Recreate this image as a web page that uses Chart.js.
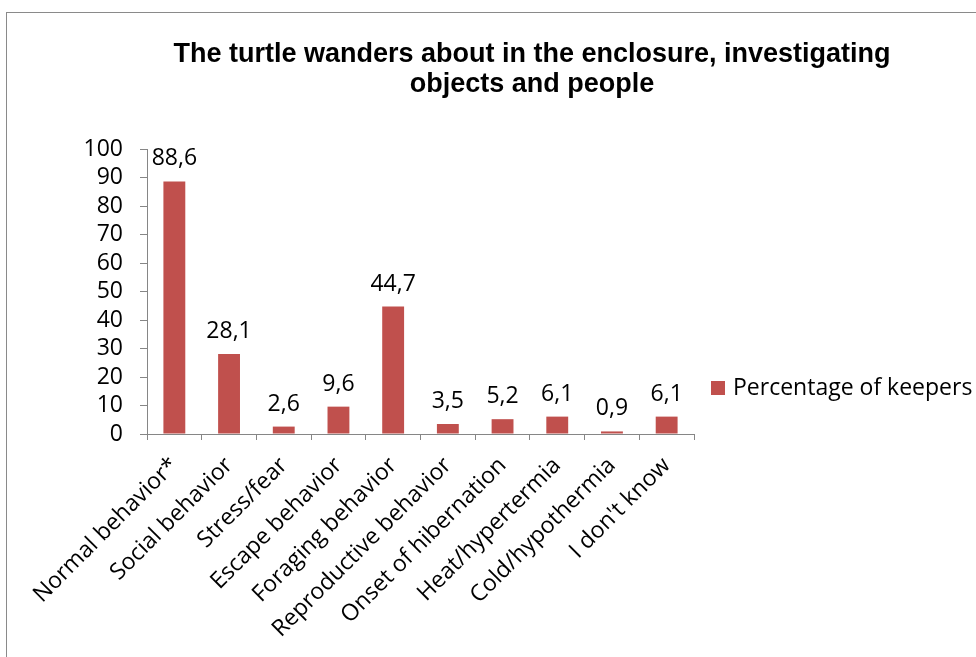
<!DOCTYPE html>
<html>
<head>
<meta charset="utf-8">
<script src="https://cdn.jsdelivr.net/npm/chart.js@4.4.1/dist/chart.umd.min.js"></script>
<style>
  body { margin: 0; background: #fff; }
  #wrap { width: 976px; height: 657px; position: relative; }
</style>
</head>
<body>
<div id="wrap"><canvas id="chart"></canvas></div>
<script>
const categories = ['Normal behavior*', 'Social behavior', 'Stress/fear', 'Escape behavior', 'Foraging behavior',
  'Reproductive behavior', 'Onset of hibernation', 'Heat/hypertermia', 'Cold/hypothermia', "I don't know"];
const keepers = [88.6, 28.1, 2.6, 9.6, 44.7, 3.5, 5.2, 6.1, 0.9, 6.1];
const yTicks = [0, 10, 20, 30, 40, 50, 60, 70, 80, 90, 100];
const titleLines = ['The turtle wanders about in the enclosure, investigating', 'objects and people'];
const seriesName = 'Percentage of keepers';

const barColor = '#C0504D';
const axisColor = '#868686';
const bodyFont = '"Open Sans", sans-serif';

// frame, title, legend, value labels (Excel look)
const extras = {
  id: 'extras',
  beforeDraw(chart) {
    const ctx = chart.ctx;
    ctx.save();
    ctx.strokeStyle = '#8a8a8a';
    ctx.lineWidth = 1;
    ctx.strokeRect(6.5, 12.5, 1200, 1200);
    ctx.restore();
  },
  afterDatasetsDraw(chart) {
    const ctx = chart.ctx;
    ctx.save();
    // title
    ctx.fillStyle = '#000';
    ctx.font = 'bold 27px "Liberation Sans", Arial, sans-serif';
    ctx.textAlign = 'center';
    ctx.textBaseline = 'alphabetic';
    ctx.fillText(titleLines[0], 532, 62);
    ctx.fillText(titleLines[1], 532, 92);

    // value labels
    ctx.font = '23px ' + bodyFont;
    const meta = chart.getDatasetMeta(0);
    meta.data.forEach((bar, i) => {
      ctx.fillText(keepers[i].toFixed(1).replace('.', ','), bar.x, bar.y - 16);
    });

    // legend
    ctx.fillStyle = barColor;
    ctx.fillRect(711, 381, 14, 14);
    ctx.fillStyle = '#000';
    ctx.textAlign = 'left';
    ctx.textBaseline = 'middle';
    ctx.fillText(seriesName, 733, 388);
    ctx.restore();
  }
};

new Chart(document.getElementById('chart'), {
  type: 'bar',
  data: {
    labels: categories,
    datasets: [{
      label: seriesName,
      data: keepers,
      backgroundColor: barColor,
      categoryPercentage: 1,
      barPercentage: 0.4
    }]
  },
  options: {
    responsive: true,
    maintainAspectRatio: false,
    animation: false,
    layout: { padding: { top: 149, right: 282, bottom: 0, left: 0 } },
    plugins: {
      legend: { display: false },
      title: { display: false },
      tooltip: { enabled: false }
    },
    scales: {
      x: {
        afterFit(scale) { scale.height = 223; },
        border: { display: true, color: axisColor, width: 1 },
        grid: { display: true, drawOnChartArea: false, drawTicks: true, tickLength: 6, color: axisColor, offset: true },
        ticks: {
          color: '#000',
          font: { family: bodyFont, size: 23 },
          maxRotation: 45,
          minRotation: 45,
          autoSkip: false,
          padding: 12
        }
      },
      y: {
        min: 0,
        max: 100,
        afterFit(scale) { scale.width = 147; },
        afterBuildTicks(scale) { scale.ticks = yTicks.map(v => ({ value: v })); },
        border: { display: true, color: axisColor, width: 1 },
        grid: { display: true, drawOnChartArea: false, drawTicks: true, tickLength: 7, color: axisColor },
        ticks: {
          color: '#000',
          font: { family: bodyFont, size: 23 },
          autoSkip: false,
          padding: 17
        }
      }
    }
  },
  plugins: [extras]
});
</script>
</body>
</html>
